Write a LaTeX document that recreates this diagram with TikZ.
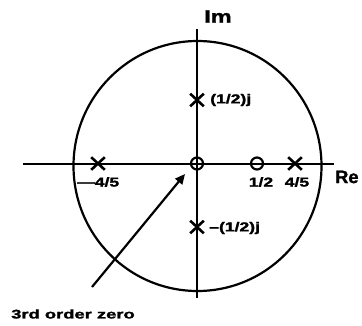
\documentclass[tikz,border=0pt]{standalone}
\usepackage{fontspec}
\setmainfont{Liberation Sans}[BoldFeatures={FakeBold=1.5}]
\usetikzlibrary{shapes.misc,arrows.meta}
\begin{document}
\begin{tikzpicture}[x=1pt,y=-1pt,
  pole/.style={cross out,draw,line width=2.6pt,minimum width=11pt,minimum height=10pt,inner sep=0pt},
  zeromark/.style={circle,draw,line width=2.2pt,minimum size=12pt,inner sep=0pt},
  lbl/.style={font=\bfseries\fontsize{13}{13}\selectfont,inner sep=0pt,xscale=1.35},
  biglbl/.style={font=\bfseries\fontsize{18}{18}\selectfont,inner sep=0pt,xscale=1.3},
  ax/.style={line width=2pt},
  arr/.style={-{Triangle[length=10pt,width=9pt]},line width=2.2pt}]
\useasboundingbox (0,0) rectangle (362,325);
% unit circle
\draw[line width=2.2pt] (197.5,166) ellipse [x radius=124, y radius=125];
% axes
\coordinate (L) at (23,163.5);
\coordinate (R) at (334,163.5);
\coordinate (T) at (197,29);
\coordinate (B) at (197,298);
\draw[ax] (L) -- (R);
\draw[ax] (T) -- (B);
% poles
\node[pole] (pm45) at (98,163.5) {};
\node[pole] (p45) at (295,163.5) {};
\node[pole] (pj) at (197,100) {};
\node[pole] (pmj) at (197,227) {};
% zeros
\node[zeromark] (z0) at (197,163.5) {};
\node[zeromark] (z12) at (257,163.5) {};
% labels
\node[biglbl] (im) at (218,16.5) {Im};
\node[biglbl,anchor=west,xscale=0.78] (re) at (335,177) {Re};
\node[lbl,anchor=west] (lpj) at (210,100) {(1/2)j};
\node[lbl,anchor=west] (lpmj) at (209,228) {–(1/2)j};
\node[lbl,anchor=west] (lm45) at (77,182) {—4/5};
\node[lbl] (l12) at (261,182) {1/2};
\node[lbl] (l45) at (297,182) {4/5};
\node[font=\bfseries\fontsize{12.5}{12.5}\selectfont,inner sep=0pt,xscale=1.47] (zlbl) at (73,314) {3rd order zero};
% arrow
\coordinate (as) at (92,287);
\coordinate (ae) at (185,174);
\draw[arr] (as) -- (ae);
\end{tikzpicture}
\end{document}
